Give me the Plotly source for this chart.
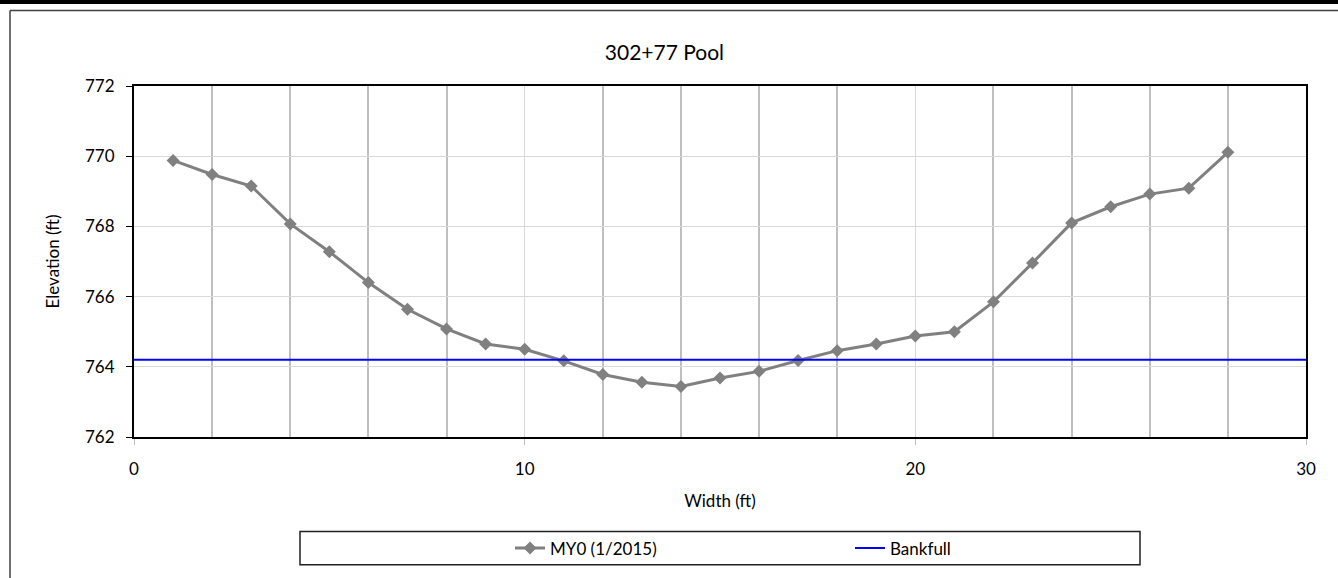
import plotly.graph_objects as go

width_ft = [1, 2, 3, 4, 5, 6, 7, 8, 9, 10, 11, 12, 13, 14, 15, 16, 17, 18, 19, 20, 21, 22, 23, 24, 25, 26, 27, 28]
elev_my0 = [769.88, 769.48, 769.15, 768.07, 767.28, 766.40, 765.64, 765.08, 764.65, 764.50,
            764.17, 763.78, 763.56, 763.44, 763.68, 763.87, 764.18, 764.46, 764.65, 764.88,
            765.00, 765.85, 766.96, 768.10, 768.56, 768.92, 769.09, 770.11]
bankfull_x = [0, 30]
bankfull_y = [764.2, 764.2]

FONT = "Lato"
W, H = 1338, 578
L, R, T, B = 134, 32, 86, 139
PW, PH = W - L - R, H - T - B


def px_x(p):
    return (p - L) / PW


def px_y(p):
    return (H - B - p) / PH


fig = go.Figure()
fig.add_trace(go.Scatter(
    x=width_ft, y=elev_my0, mode="lines+markers", name="MY0 (1/2015)",
    line=dict(color="#808080", width=3),
    marker=dict(symbol="diamond", size=10, color="#808080"),
))
fig.add_trace(go.Scatter(
    x=bankfull_x, y=bankfull_y, mode="lines", name="Bankfull",
    line=dict(color="#0000FF", width=2),
))

shapes = [
    dict(type="rect", xref="paper", yref="paper", x0=px_x(-5), x1=px_x(W + 5),
         y0=px_y(3.5), y1=px_y(-5), fillcolor="black", line=dict(width=0), layer="above"),
    dict(type="line", xref="paper", yref="paper", x0=px_x(10), x1=px_x(W + 5),
         y0=px_y(10), y1=px_y(10), line=dict(color="#404040", width=1.5)),
    dict(type="line", xref="paper", yref="paper", x0=px_x(10), x1=px_x(10),
         y0=px_y(10), y1=px_y(H + 5), line=dict(color="#404040", width=1.5)),
    dict(type="rect", xref="paper", yref="paper", x0=px_x(300), x1=px_x(1140),
         y0=px_y(567.5), y1=px_y(534), line=dict(color="#202020", width=1.5)),
]

fig.update_layout(
    width=W, height=H,
    margin=dict(l=L, r=R, t=T, b=B),
    paper_bgcolor="white", plot_bgcolor="white",
    font=dict(family=FONT, size=17, color="black"),
    title=dict(text="302+77 Pool", x=px_x(716), xanchor="center",
               y=1 - 53 / H, yanchor="middle", font=dict(size=21, family=FONT)),
    showlegend=True,
    legend=dict(orientation="h", x=px_x(510), y=px_y(551), xanchor="left", yanchor="middle",
                bgcolor="rgba(0,0,0,0)", borderwidth=0, font=dict(size=17, family=FONT),
                entrywidth=295, entrywidthmode="pixels", itemwidth=30),
    shapes=shapes,
)

fig.update_xaxes(
    range=[0, 30], dtick=10, tick0=0, showgrid=True, gridcolor="#D9D9D9", gridwidth=1,
    minor=dict(dtick=2, showgrid=True, gridcolor="#BFBFBF", gridwidth=1.5),
    ticks="outside", ticklen=6, tickcolor="#BFBFBF", ticklabelstandoff=10,
    showline=True, linecolor="black", linewidth=2, mirror=True, zeroline=False,
    title=dict(text="Width (ft)", font=dict(size=17, family=FONT), standoff=17),
    tickfont=dict(size=17, family=FONT),
)
fig.update_yaxes(
    range=[762, 772], dtick=2, tick0=762, showgrid=True, gridcolor="#D9D9D9", gridwidth=1,
    ticks="outside", ticklen=6, tickcolor="black", ticklabelstandoff=8,
    showline=True, linecolor="black", linewidth=2, mirror=True, zeroline=False,
    title=dict(text="Elevation (ft)", font=dict(size=17, family=FONT), standoff=21),
    tickfont=dict(size=17, family=FONT),
)

fig.write_html("out.html", config={"displayModeBar": False},
               post_script="document.body.style.margin='0';")
